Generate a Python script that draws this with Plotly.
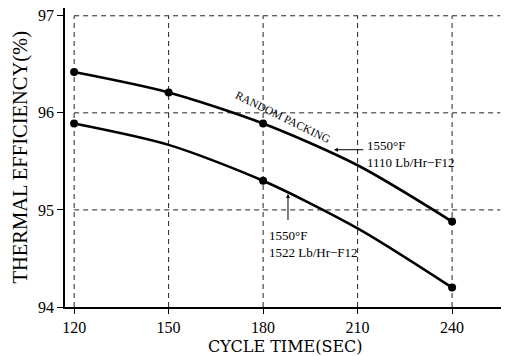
import plotly.graph_objects as go

# Data
cycle_time = [120, 150, 180, 210, 240]
upper_eff = [96.42, 96.21, 95.89, 95.46, 94.88]   # 1110 Lb/Hr-F12
lower_eff = [95.89, 95.67, 95.30, 94.81, 94.20]   # 1522 Lb/Hr-F12
upper_mark_x = [120, 150, 180, 240]
upper_mark_y = [96.42, 96.21, 95.89, 94.88]
lower_mark_x = [120, 180, 240]
lower_mark_y = [95.89, 95.30, 94.20]
x_ticks = [120, 150, 180, 210, 240]
y_ticks = [94, 95, 96, 97]

FONT = "Liberation Serif"
X_RANGE = [117.1, 256.8]
Y_RANGE = [94, 97.08]

fig = go.Figure()
for xs, ys in [(cycle_time, upper_eff), (cycle_time, lower_eff)]:
    fig.add_trace(go.Scatter(x=xs, y=ys, mode="lines",
                             line=dict(color="black", width=2.6, shape="spline", smoothing=0.8),
                             hoverinfo="skip", showlegend=False))
for xs, ys in [(upper_mark_x, upper_mark_y), (lower_mark_x, lower_mark_y)]:
    fig.add_trace(go.Scatter(x=xs, y=ys, mode="markers",
                             marker=dict(color="black", size=8),
                             showlegend=False))

shapes = []
dash = dict(color="#222", width=1, dash="5px,4px")
for xv in x_ticks:
    shapes.append(dict(type="line", xref="x", yref="y", x0=xv, x1=xv,
                       y0=y_ticks[0], y1=y_ticks[-1], line=dash, layer="below"))
for yv in y_ticks[1:]:
    shapes.append(dict(type="line", xref="x", yref="y", x0=x_ticks[0], x1=255.3,
                       y0=yv, y1=yv, line=dash, layer="below"))

annotations = [
    dict(text="CYCLE TIME(SEC)", xref="paper", yref="paper", x=0.5, y=-0.131,
         xanchor="center", yanchor="middle", showarrow=False,
         font=dict(family="DejaVu Serif", size=16, color="black")),
    dict(text="THERMAL EFFICIENCY(%)", xref="paper", yref="paper", x=-0.102, y=0.50,
         xanchor="center", yanchor="middle", showarrow=False, textangle=-90,
         font=dict(family=FONT, size=20.5, color="black")),
    dict(text="RANDOM PACKING", xref="x", yref="y", x=186.3, y=95.96,
         showarrow=False, textangle=26,
         font=dict(family=FONT, size=11.5, color="black")),
    dict(text="1550°F<br>1110 Lb/Hr−F12", xref="x", yref="y", x=212.3, y=95.58,
         xanchor="left", yanchor="middle", align="left", showarrow=False,
         font=dict(family=FONT, size=13, color="black")),
    dict(text="1550°F<br>1522 Lb/Hr−F12", xref="x", yref="y", x=181.2, y=94.65,
         xanchor="left", yanchor="middle", align="left", showarrow=False,
         font=dict(family=FONT, size=13, color="black")),
    dict(text="", x=202.5, y=95.62, ax=212.3, ay=95.62, xref="x", yref="y",
         axref="x", ayref="y", showarrow=True, arrowhead=2, arrowsize=0.8,
         arrowwidth=1, arrowcolor="black"),
    dict(text="", x=187.9, y=95.165, ax=187.9, ay=94.88, xref="x", yref="y",
         axref="x", ayref="y", showarrow=True, arrowhead=2, arrowsize=0.8,
         arrowwidth=1, arrowcolor="black"),
]

fig.update_layout(
    width=501, height=348,
    margin=dict(l=57, r=4, t=0, b=49),
    paper_bgcolor="white", plot_bgcolor="white",
    shapes=shapes, annotations=annotations,
    xaxis=dict(range=X_RANGE, tickvals=x_ticks, showgrid=False, zeroline=False,
               showline=True, linecolor="black", linewidth=1.5,
               ticks="outside", ticklen=5, tickcolor="black",
               ticklabeloverflow="allow",
               tickfont=dict(family=FONT, size=16, color="black")),
    yaxis=dict(range=Y_RANGE, tickvals=y_ticks, showgrid=False, zeroline=False,
               showline=True, linecolor="black", linewidth=1.5,
               ticks="outside", ticklen=6, tickcolor="black",
               ticklabeloverflow="allow",
               tickfont=dict(family=FONT, size=16, color="black")),
)

fig.write_html("out.html")
